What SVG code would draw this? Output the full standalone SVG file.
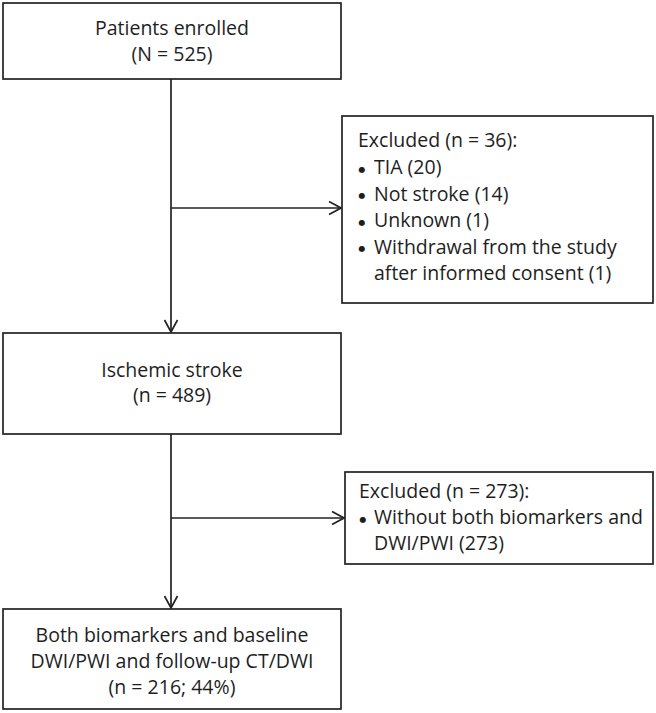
<svg xmlns="http://www.w3.org/2000/svg" width="656" height="713" viewBox="0 0 656 713">
<style>
.box{fill:#fff;stroke:#222;stroke-width:1.7}
.t{font-family:"Open Sans","Noto Sans",sans-serif;font-size:19.5px;fill:#1e1e1e}
.b{font-family:"DejaVu Sans",sans-serif;font-size:8px}
.c{text-anchor:middle}
.ln{stroke:#222;stroke-width:1.7;fill:none}
</style>
<defs>
<marker id="ah" markerWidth="14" markerHeight="16" refX="13" refY="8" orient="auto" markerUnits="userSpaceOnUse">
<path d="M1,1.5 L13,8 L1,14.5" fill="none" stroke="#222" stroke-width="1.7"/>
</marker>
</defs>
<rect width="656" height="713" fill="#fff"/>
<g id="connectors">
<line class="ln" x1="171" y1="79" x2="171" y2="332" marker-end="url(#ah)"/>
<line class="ln" x1="171" y1="208" x2="341" y2="208" marker-end="url(#ah)"/>
<line class="ln" x1="171" y1="434" x2="171" y2="608" marker-end="url(#ah)"/>
<line class="ln" x1="171" y1="518" x2="344" y2="518" marker-end="url(#ah)"/>
</g>
<g id="enrolled">
<rect class="box" x="3" y="3" width="338" height="76"/>
<text class="t c" x="172" y="35">Patients enrolled</text>
<text class="t c" x="172" y="61">(N = 525)</text>
</g>
<g id="excluded1">
<rect class="box" x="342" y="116" width="311" height="187"/>
<text class="t" x="358" y="147">Excluded (n = 36):</text>
<text class="t"><tspan class="b" x="358.5" y="171.5">●</tspan><tspan x="374" y="174">TIA (20)</tspan></text>
<text class="t"><tspan class="b" x="358.5" y="198">●</tspan><tspan x="374" y="200.5">Not stroke (14)</tspan></text>
<text class="t"><tspan class="b" x="358.5" y="224.5">●</tspan><tspan x="374" y="227">Unknown (1)</tspan></text>
<text class="t"><tspan class="b" x="358.5" y="251">●</tspan><tspan x="374" y="253.5">Withdrawal from the study</tspan><tspan x="374" y="280">after informed consent (1)</tspan></text>
</g>
<g id="ischemic">
<rect class="box" x="3" y="333" width="338" height="101"/>
<text class="t c" x="172" y="377">Ischemic stroke</text>
<text class="t c" x="172" y="402">(n = 489)</text>
</g>
<g id="excluded2">
<rect class="box" x="345" y="472" width="308" height="92"/>
<text class="t" x="359" y="498">Excluded (n = 273):</text>
<text class="t"><tspan class="b" x="359.5" y="521.5">●</tspan><tspan x="374" y="524">Without both biomarkers and</tspan><tspan x="374" y="550">DWI/PWI (273)</tspan></text>
</g>
<g id="final">
<rect class="box" x="3" y="609" width="338" height="100"/>
<text class="t c" x="172" y="642">Both biomarkers and baseline</text>
<text class="t c" x="172" y="668">DWI/PWI and follow-up CT/DWI</text>
<text class="t c" x="172" y="694">(n = 216; 44%)</text>
</g>
</svg>
